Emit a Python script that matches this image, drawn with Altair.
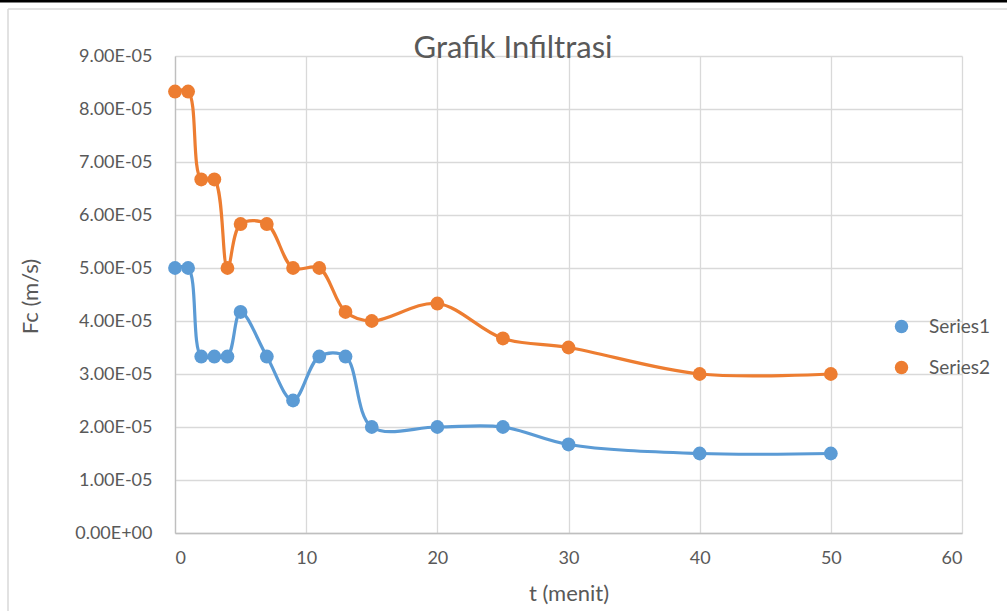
import altair as alt
import pandas as pd

# Infiltration measurements: time (minutes) vs infiltration rate Fc (m/s)
t_menit = [0, 1, 2, 3, 4, 5, 7, 9, 11, 13, 15, 20, 25, 30, 40, 50]
series1 = [5.00e-5, 5.00e-5, 3.33e-5, 3.33e-5, 3.33e-5, 4.17e-5, 3.33e-5, 2.50e-5,
           3.33e-5, 3.33e-5, 2.00e-5, 2.00e-5, 2.00e-5, 1.67e-5, 1.50e-5, 1.50e-5]
series2 = [8.33e-5, 8.33e-5, 6.67e-5, 6.67e-5, 5.00e-5, 5.83e-5, 5.83e-5, 5.00e-5,
           5.00e-5, 4.17e-5, 4.00e-5, 4.33e-5, 3.67e-5, 3.50e-5, 3.00e-5, 3.00e-5]
series_names = ["Series1", "Series2"]
series_colors = ["#5b9bd5", "#ed7d31"]

x_ticks = [0, 10, 20, 30, 40, 50, 60]
y_ticks = [i * 1e-5 for i in range(10)]

rows = []
for name, values in zip(series_names, [series1, series2]):
    for t, v in zip(t_menit, values):
        rows.append({"t": t, "fc": v, "series": name})
df = pd.DataFrame(rows)

FONT = "Lato"
TEXT_COLOR = "#595959"
GRID = "#d9d9d9"

x_enc = alt.X(
    "t:Q",
    scale=alt.Scale(domain=[0, 60], nice=False, zero=False),
    axis=alt.Axis(
        values=x_ticks, title="t (menit)", ticks=False, labelPadding=16,
        titleY=60, titleBaseline="middle", titleFontWeight="normal",
    ),
)
y_enc = alt.Y(
    "fc:Q",
    scale=alt.Scale(domain=[0, 9e-5], nice=False),
    axis=alt.Axis(
        values=y_ticks, title="Fc (m/s)", ticks=False, labelPadding=23,
        labelExpr="datum.value == 0 ? '0.00E+00' : format(datum.value * 1e5, '.2f') + 'E-05'",
        titleX=-145, titleY=240, titleAngle=-90, titleAlign="center",
        titleBaseline="middle", titleFontWeight="normal",
    ),
)
color_scale = alt.Scale(domain=series_names, range=series_colors)
legend = alt.Legend(
    title=None, orient="none", legendX=717, legendY=261,
    symbolType="circle", symbolSize=180, symbolStrokeWidth=0,
    labelFontSize=19, labelColor=TEXT_COLOR, labelFont=FONT, labelOffset=18,
    rowPadding=21, padding=0,
)
color_enc = alt.Color("series:N", scale=color_scale, legend=legend)

lines = alt.Chart(df).mark_line(
    interpolate="catmull-rom", strokeWidth=3.2
).encode(x=x_enc, y=y_enc, color=color_enc)

points = alt.Chart(df).mark_point(
    filled=True, size=190, opacity=1
).encode(x=x_enc, y=y_enc, color=color_enc)

title_mark = alt.Chart(pd.DataFrame({"label": ["Grafik Infiltrasi"]})).mark_text(
    font=FONT, fontSize=31, color=TEXT_COLOR, align="center", baseline="alphabetic"
).encode(x=alt.value(338), y=alt.value(2), text="label:N")

# Frame of the chart area and the dark band above it
frame_left = alt.Chart(pd.DataFrame({"k": [0]})).mark_rule(
    color=GRID, strokeWidth=1.5
).encode(x=alt.value(-167), y=alt.value(-47), y2=alt.value(560))
frame_top = alt.Chart(pd.DataFrame({"k": [0]})).mark_rule(
    color=GRID, strokeWidth=1.5
).encode(x=alt.value(-167), x2=alt.value(840), y=alt.value(-47))
top_band = alt.Chart(pd.DataFrame({"k": [0]})).mark_rule(
    color="#000000", strokeWidth=3
).encode(x=alt.value(-180), x2=alt.value(840), y=alt.value(-55))

chart = alt.layer(
    frame_left, frame_top, top_band, lines, points, title_mark
).properties(
    width=787, height=477,
    autosize=alt.AutoSizeParams(type="none"),
    padding={"left": 175, "top": 56, "right": 45, "bottom": 78},
    background="white",
).configure_view(
    strokeWidth=0
).configure_axis(
    labelFont=FONT, labelFontSize=18, labelColor=TEXT_COLOR,
    titleFont=FONT, titleFontSize=22, titleColor=TEXT_COLOR,
    gridColor=GRID, gridWidth=1.3, domainColor="#bfbfbf", domainWidth=1.3,
)

chart.save("out.html", embed_options={"renderer": "svg", "actions": False})
